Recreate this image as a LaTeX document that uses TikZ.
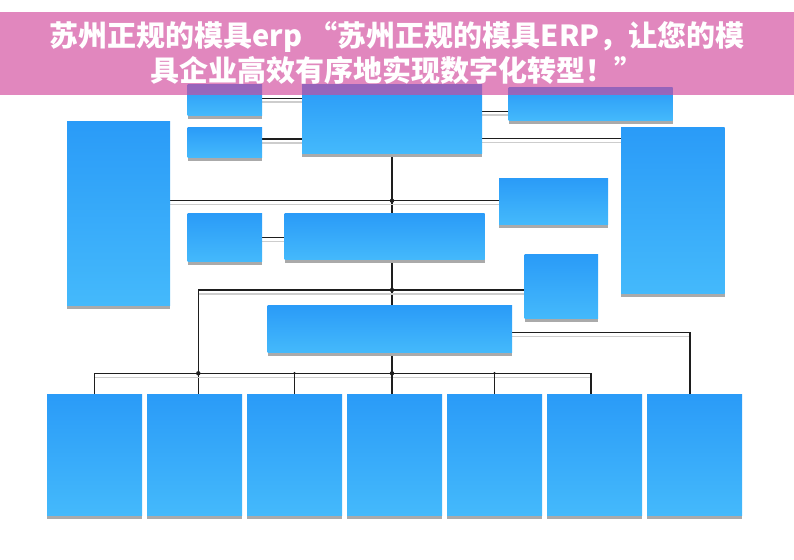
\documentclass[tikz,border=0pt]{standalone}
\usepackage{fontspec}
\newfontfamily\cjk{Noto Sans CJK SC Black}
\usetikzlibrary{backgrounds,shadows}
\definecolor{btop}{RGB}{42,155,248}
\definecolor{bbot}{RGB}{68,185,251}
\definecolor{shad}{RGB}{170,170,170}
\definecolor{lshad}{RGB}{205,205,205}
\definecolor{ink}{RGB}{30,30,30}
\definecolor{banner}{RGB}{209,71,155}
\tikzset{
  box/.style={rectangle, inner sep=0pt, outer sep=0pt, anchor=north west,
    top color=btop, bottom color=bbot, draw=none,
    drop shadow={shadow xshift=0pt, shadow yshift=-3.5pt, fill=shad, opacity=1}},
  conn/.style={draw=ink, line width=1.1pt,
    preaction={draw=lshad, line width=1.5pt, transform canvas={yshift=-4pt}}},
  titletext/.style={font=\cjk\fontsize{29}{35.5}\selectfont, text=white, align=center, inner sep=0pt}
}
\begin{document}
\begin{tikzpicture}[x=1pt,y=-1pt]
\useasboundingbox (0,0) rectangle (794,559);
% boxes
\node[box, minimum width=74.5pt, minimum height=30.5pt] (A) at (187.5,85) {};
\node[box, minimum width=74.5pt, minimum height=30pt] (B) at (187.5,127) {};
\node[box, minimum width=180pt, minimum height=68pt] (C) at (302,85) {};
\node[box, minimum width=103pt, minimum height=184pt] (D) at (67,121) {};
\node[box, minimum width=164pt, minimum height=32.5pt] (E) at (508.5,88) {};
\node[box, minimum width=103.5pt, minimum height=166.5pt] (F) at (621,127) {};
\node[box, minimum width=109pt, minimum height=46pt] (G) at (499,178) {};
\node[box, minimum width=73.5pt, minimum height=64pt] (H) at (524.5,254.5) {};
\node[box, minimum width=74.5pt, minimum height=48pt] (I) at (187.5,213.5) {};
\node[box, minimum width=200pt, minimum height=46pt] (J) at (284.5,213.5) {};
\node[box, minimum width=244.5pt, minimum height=46.5pt] (K) at (267.5,305.5) {};
\foreach \i in {1,...,7}
  \node[box, minimum width=95pt, minimum height=121pt] (b\i) at ({47+100*(\i-1)},394) {};
% junction coordinates
\coordinate (cf) at (482,138.7);
\coordinate (j1) at (392,200.7);
\coordinate (j2) at (392,290);
\coordinate (c1) at (198.3,290);
\coordinate (busL) at (94.7,373.3);
\coordinate (busR) at (591,373.3);
\coordinate (c2) at (690,332.3);
\begin{pgfonlayer}{background}
\draw[conn] ([yshift=2pt]A.east) -- ([yshift=2pt]A.east -| C.west);
\draw[conn] ([yshift=3pt]B.east) -- ([yshift=3pt]B.east -| C.west);
\draw[conn] ([yshift=-7pt]E.west) -- ([yshift=-7pt]E.west -| C.east);
\draw[conn] (C.east |- cf) -- (F.west |- cf);
\draw[conn] (C.south -| j1) -- (J.north -| j1);
\draw[conn] (D.east |- j1) -- (G.west |- j1);
\draw[conn] (I.east) -- (I.east -| J.west);
\draw[conn] (J.south -| j2) -- (K.north -| j2);
\draw[conn] (H.west |- j2) -- (c1) -- (c1 |- b2.north);
\draw[conn] (b1.north -| busL) -- (busL) -- (busR) -- (busR |- b6.north);
\draw[conn] (K.south -| j2) -- (j2 |- b4.north);
\draw[conn] (b3.north) -- (b3.north |- busL);
\draw[conn] (b5.north) -- (b5.north |- busL);
\draw[conn] (K.east |- c2) -- (c2) -- (c2 |- b7.north);
\end{pgfonlayer}
\fill[ink] (j1) circle (2.2) (j2) circle (2.2) (c1 |- busL) circle (2.2) (j2 |- busL) circle (2.2);
\fill[ink] (b3.north |- busL) circle (1.4) (b5.north |- busL) circle (1.4);
% banner
\fill[banner, fill opacity=0.65] (0,12) rectangle (794,95);
\node[titletext] (title) at (397,53) {苏州正规的模具erp “苏州正规的模具ERP，让您的模\\具企业高效有序地实现数字化转型！”};
\end{tikzpicture}
\end{document}
